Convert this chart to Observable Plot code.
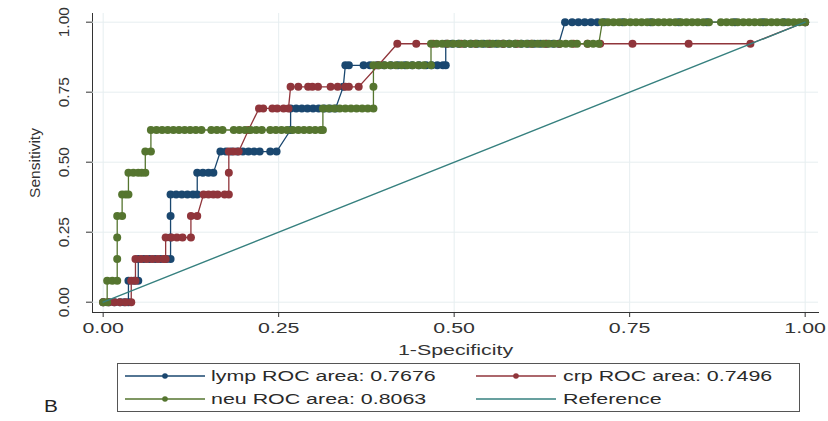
<!DOCTYPE html>
<html>
<head>
<meta charset="utf-8">
<script src="https://cdn.jsdelivr.net/npm/d3@7"></script>
<script src="https://cdn.jsdelivr.net/npm/@observablehq/plot@0.6"></script>
<style>
  html, body { margin: 0; padding: 0; background: #fff; }
  body { font-family: "Liberation Sans", Arial, sans-serif; }
  #wrap { position: relative; width: 828px; height: 421px; overflow: hidden; background: #fff; }
  #chart { position: absolute; left: 0; top: 0; }
  #legend { position: absolute; left: 117px; top: 363px; width: 683px; height: 49px; box-sizing: border-box; border: 1px solid #555; }
  .sw { position: absolute; width: 80px; height: 10px; }
  .lab { position: absolute; white-space: nowrap; font-size: 15.5px; color: #2a2a2a; transform: scaleX(1.38); transform-origin: 0 50%; line-height: 18px; }
  #panel { position: absolute; left: 44px; top: 398px; font-size: 16px; color: #222; transform: scaleX(1.3); transform-origin: 0 50%; line-height: 18px; }
</style>
</head>
<body>
<div id="wrap">
  <div id="chart"></div>
  <div id="legend"></div>
  <div id="panel">B</div>
</div>
<script>
// ---------- data ----------
const xTicks = [0, 0.25, 0.5, 0.75, 1];
const yTicks = [0, 0.25, 0.5, 0.75, 1];

const sensLevels = [0, 0.077, 0.154, 0.231, 0.308, 0.385, 0.462, 0.538, 0.615, 0.692, 0.769, 0.846, 0.923, 1];

// lymp: 1-specificity values of the markers at each sensitivity level
const lympRuns = [
  [0, 0.008, 0.016, 0.024, 0.030, 0.036],
  [0.036, 0.044, 0.050],
  [0.050, 0.058, 0.066, 0.074, 0.082, 0.090, 0.096],
  [0.096],
  [0.096],
  [0.096, 0.104, 0.112, 0.120, 0.128, 0.134],
  [0.134, 0.142, 0.150, 0.157],
  [0.167, 0.175, 0.183, 0.191, 0.199, 0.207, 0.215, 0.223, 0.238, 0.247],
  [0.267],
  [0.267, 0.275, 0.283, 0.291, 0.299, 0.307, 0.315, 0.323, 0.331],
  [0.342],
  [0.345, 0.350, 0.371, 0.380, 0.390, 0.400, 0.410, 0.420, 0.430, 0.440, 0.450, 0.460, 0.468, 0.476, 0.484, 0.488],
  [0.488, 0.497, 0.506, 0.515, 0.524, 0.533, 0.542, 0.551, 0.560, 0.569, 0.578, 0.587, 0.596, 0.605, 0.614, 0.623, 0.632, 0.641, 0.649],
  [0.658, 0.668, 0.677, 0.686, 0.695, 0.704, 0.714, 0.74, 0.78, 0.82, 0.86, 0.90, 0.94, 0.97, 1]
];

// crp
const crpRuns = [
  [0, 0.008, 0.016, 0.024, 0.032, 0.040],
  [0.040, 0.046],
  [0.046, 0.054, 0.062, 0.070, 0.078, 0.086, 0.089],
  [0.089, 0.097, 0.105, 0.113, 0.125],
  [0.125, 0.134],
  [0.143, 0.150, 0.157, 0.163, 0.173, 0.179],
  [0.179],
  [0.179, 0.186, 0.193],
  [0.207],
  [0.222, 0.228, 0.241, 0.248, 0.257, 0.264],
  [0.267, 0.278, 0.292, 0.298, 0.306, 0.324, 0.334, 0.345, 0.350, 0.364],
  [0.392],
  [0.419, 0.446, 0.470, 0.49, 0.51, 0.53, 0.55, 0.57, 0.59, 0.61, 0.63, 0.65, 0.67, 0.69, 0.708, 0.754, 0.834, 0.922],
  [1]
];

// neu
const neuRuns = [
  [0, 0.0057],
  [0.0057, 0.013, 0.020],
  [0.020],
  [0.020],
  [0.020, 0.027],
  [0.027, 0.032, 0.036],
  [0.036, 0.043, 0.050, 0.055, 0.060],
  [0.060, 0.068],
  [0.068, 0.076, 0.084, 0.092, 0.100, 0.108, 0.116, 0.124, 0.132, 0.140, 0.154, 0.162, 0.170, 0.186, 0.194, 0.202, 0.210, 0.218, 0.226, 0.238, 0.246, 0.254, 0.262, 0.270, 0.278, 0.286, 0.294, 0.302, 0.310, 0.313],
  [0.313, 0.321, 0.329, 0.337, 0.345, 0.353, 0.361, 0.369, 0.377, 0.385],
  [0.385],
  [0.385, 0.393, 0.401, 0.409, 0.417, 0.425, 0.433, 0.441, 0.449, 0.457, 0.467],
  [0.467, 0.475, 0.483, 0.491, 0.499, 0.507, 0.515, 0.523, 0.531, 0.539, 0.547, 0.555, 0.563, 0.571, 0.579, 0.587, 0.595, 0.603, 0.611, 0.619, 0.627, 0.635, 0.643, 0.651, 0.659, 0.667, 0.675, 0.690, 0.698, 0.706],
  [0.711, 0.719, 0.727, 0.735, 0.743, 0.751, 0.759, 0.767, 0.775, 0.783, 0.791, 0.799, 0.807, 0.815, 0.823, 0.831, 0.839, 0.847, 0.855, 0.863, 0.880, 0.888, 0.896, 0.904, 0.912, 0.920, 0.928, 0.936, 0.944, 0.952, 0.960, 0.968, 0.976, 0.984, 0.992, 1]
];

const refFpr = [0, 1];
const refSens = [0, 1];

const seriesNames = ["lymp ROC area: 0.7676", "crp ROC area: 0.7496", "neu ROC area: 0.8063", "Reference"];
const seriesColors = ["#1a476f", "#90353b", "#55752f", "#36807f"];

// ---------- build tables ----------
function toPoints(runs) {
  const pts = [];
  runs.forEach((run, i) => run.forEach(f => pts.push({fpr: f, sens: sensLevels[i]})));
  return pts;
}
const lymp = toPoints(lympRuns);
const crp = toPoints(crpRuns);
const neu = toPoints(neuRuns);
const ref = refFpr.map((f, i) => ({fpr: f, sens: refSens[i]}));

const gridColor = "#e6eef0";
const R = 4;

const chart = Plot.plot({
  width: 828,
  height: 362,
  marginLeft: 92,
  marginRight: 10,
  marginTop: 13,
  marginBottom: 50,
  style: {fontFamily: "'Liberation Sans', Arial, sans-serif", fontSize: "15.5px", color: "#333", background: "transparent"},
  x: {domain: [-0.0152, 1.019], ticks: xTicks, tickFormat: ".2f", tickSize: 5, tickPadding: 4, label: "1-Specificity", labelArrow: false, labelAnchor: "center", labelOffset: 42, line: true},
  y: {domain: [-0.0368, 1.031], ticks: yTicks, tickFormat: ".2f", tickSize: 6, tickPadding: 18, tickRotate: -90, label: "Sensitivity", labelArrow: false, labelAnchor: "center", labelOffset: 64, line: true},
  marks: [
    Plot.ruleX(xTicks, {stroke: gridColor, strokeWidth: 1}),
    Plot.ruleY(yTicks, {stroke: gridColor, strokeWidth: 1}),
    Plot.line(lymp, {x: "fpr", y: "sens", stroke: seriesColors[0], strokeWidth: 1.3}),
    Plot.dot(lymp, {x: "fpr", y: "sens", r: R, fill: seriesColors[0], stroke: "none"}),
    Plot.line(crp, {x: "fpr", y: "sens", stroke: seriesColors[1], strokeWidth: 1.3}),
    Plot.dot(crp, {x: "fpr", y: "sens", r: R, fill: seriesColors[1], stroke: "none"}),
    Plot.line(neu, {x: "fpr", y: "sens", stroke: seriesColors[2], strokeWidth: 1.3}),
    Plot.dot(neu, {x: "fpr", y: "sens", r: R, fill: seriesColors[2], stroke: "none"}),
    Plot.line(ref, {x: "fpr", y: "sens", stroke: seriesColors[3], strokeWidth: 1.4})
  ]
});
document.getElementById("chart").appendChild(chart);

// the reference image is horizontally stretched: widen horizontal text
chart.querySelectorAll("text").forEach(t => {
  const tr = t.getAttribute("transform") || "";
  if (/rotate/.test(tr)) return;
  t.setAttribute("transform", (tr + " scale(1.38,1)").trim());
});

// ---------- legend ----------
const legend = document.getElementById("legend");
const slots = [
  {sx: 7, tx: 93, y: 12, dot: true},
  {sx: 358, tx: 445, y: 12, dot: true},
  {sx: 7, tx: 93, y: 35, dot: true},
  {sx: 358, tx: 445, y: 35, dot: false}
];
seriesNames.forEach((name, i) => {
  const s = slots[i];
  const sw = document.createElementNS("http://www.w3.org/2000/svg", "svg");
  sw.setAttribute("class", "sw");
  sw.setAttribute("width", 80); sw.setAttribute("height", 10);
  sw.style.left = s.sx + "px"; sw.style.top = (s.y - 5) + "px";
  sw.innerHTML = `<line x1="0" y1="5" x2="80" y2="5" stroke="${seriesColors[i]}" stroke-width="1.4"/>` +
    (s.dot ? `<circle cx="40" cy="5" r="2.8" fill="${seriesColors[i]}"/>` : "");
  legend.appendChild(sw);
  const lab = document.createElement("div");
  lab.className = "lab";
  lab.textContent = name;
  lab.style.left = s.tx + "px";
  lab.style.top = (s.y - 9) + "px";
  legend.appendChild(lab);
});
</script>
</body>
</html>
